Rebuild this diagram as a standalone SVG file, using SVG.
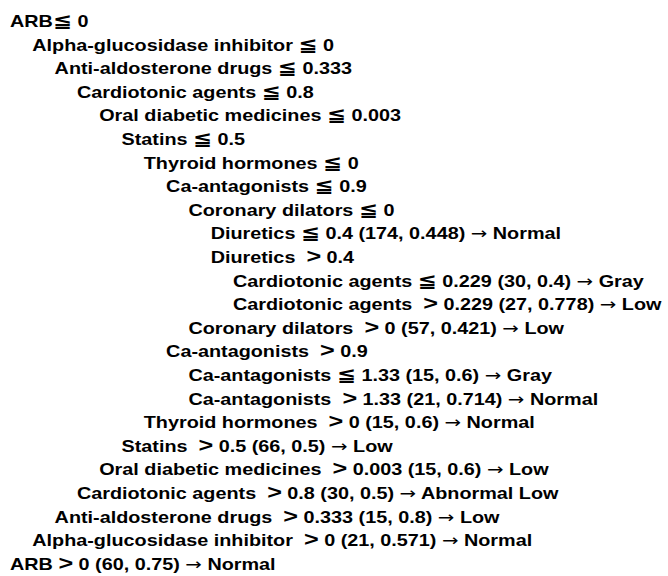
<svg xmlns="http://www.w3.org/2000/svg" width="668" height="576" viewBox="0 0 668 576">
<style>
.t{font-family:"Liberation Sans","DejaVu Sans","Noto Sans CJK JP",Arial,sans-serif;font-weight:bold;font-size:16.5px;fill:#000;white-space:pre}
.g{font-size:21px}
.l{font-size:19px}
.a{font-family:"DejaVu Sans",sans-serif;font-weight:normal}
</style>
<rect width="668" height="576" fill="#fff"/>
<g id="tree" transform="scale(1.2,1)" xml:space="preserve">
<g id="n1"><text class="t" x="8.33" y="27">ARB<tspan class="l">≦</tspan> 0</text></g>
<g id="n2"><text class="t" x="26.92" y="50.6">Alpha-glucosidase inhibitor <tspan class="l">≦</tspan> 0</text></g>
<g id="n3"><text class="t" x="45.5" y="74.2">Anti-aldosterone drugs <tspan class="l">≦</tspan> 0.333</text></g>
<g id="n4"><text class="t" x="64.08" y="97.8">Cardiotonic agents <tspan class="l">≦</tspan> 0.8</text></g>
<g id="n5"><text class="t" x="82.67" y="121.4">Oral diabetic medicines <tspan class="l">≦</tspan> 0.003</text></g>
<g id="n6"><text class="t" x="101.25" y="145">Statins <tspan class="l">≦</tspan> 0.5</text></g>
<g id="n7"><text class="t" x="119.83" y="168.6">Thyroid hormones <tspan class="l">≦</tspan> 0</text></g>
<g id="n8"><text class="t" x="138.42" y="192.2">Ca-antagonists <tspan class="l">≦</tspan> 0.9</text></g>
<g id="n9"><text class="t" x="157" y="215.8">Coronary dilators <tspan class="l">≦</tspan> 0</text></g>
<g id="n10"><text class="t" x="175.58" y="239.4">Diuretics <tspan class="l">≦</tspan> 0.4 (174, 0.448) <tspan class="a">→</tspan> Normal</text></g>
<g id="n11"><text class="t" x="175.58" y="263">Diuretics  <tspan class="g">&gt;</tspan> 0.4</text></g>
<g id="n12"><text class="t" x="194.17" y="286.6">Cardiotonic agents <tspan class="l">≦</tspan> 0.229 (30, 0.4) <tspan class="a">→</tspan> Gray</text></g>
<g id="n13"><text class="t" x="194.17" y="310.2">Cardiotonic agents  <tspan class="g">&gt;</tspan> 0.229 (27, 0.778) <tspan class="a">→</tspan> Low</text></g>
<g id="n14"><text class="t" x="157" y="333.8">Coronary dilators  <tspan class="g">&gt;</tspan> 0 (57, 0.421) <tspan class="a">→</tspan> Low</text></g>
<g id="n15"><text class="t" x="138.42" y="357.4">Ca-antagonists  <tspan class="g">&gt;</tspan> 0.9</text></g>
<g id="n16"><text class="t" x="157" y="381">Ca-antagonists <tspan class="l">≦</tspan> 1.33 (15, 0.6) <tspan class="a">→</tspan> Gray</text></g>
<g id="n17"><text class="t" x="157" y="404.6">Ca-antagonists  <tspan class="g">&gt;</tspan> 1.33 (21, 0.714) <tspan class="a">→</tspan> Normal</text></g>
<g id="n18"><text class="t" x="119.83" y="428.2">Thyroid hormones  <tspan class="g">&gt;</tspan> 0 (15, 0.6) <tspan class="a">→</tspan> Normal</text></g>
<g id="n19"><text class="t" x="101.25" y="451.8">Statins  <tspan class="g">&gt;</tspan> 0.5 (66, 0.5) <tspan class="a">→</tspan> Low</text></g>
<g id="n20"><text class="t" x="82.67" y="475.4">Oral diabetic medicines  <tspan class="g">&gt;</tspan> 0.003 (15, 0.6) <tspan class="a">→</tspan> Low</text></g>
<g id="n21"><text class="t" x="64.08" y="499">Cardiotonic agents  <tspan class="g">&gt;</tspan> 0.8 (30, 0.5) <tspan class="a">→</tspan> Abnormal Low</text></g>
<g id="n22"><text class="t" x="45.5" y="522.6">Anti-aldosterone drugs  <tspan class="g">&gt;</tspan> 0.333 (15, 0.8) <tspan class="a">→</tspan> Low</text></g>
<g id="n23"><text class="t" x="26.92" y="546.2">Alpha-glucosidase inhibitor  <tspan class="g">&gt;</tspan> 0 (21, 0.571) <tspan class="a">→</tspan> Normal</text></g>
<g id="n24"><text class="t" x="8.33" y="569.8">ARB <tspan class="g">&gt;</tspan> 0 (60, 0.75) <tspan class="a">→</tspan> Normal</text></g>
</g>
</svg>
